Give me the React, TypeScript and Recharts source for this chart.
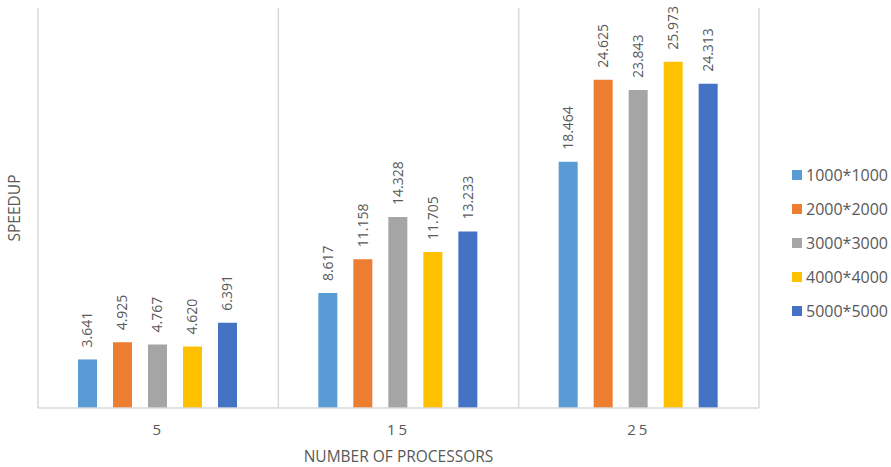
import { BarChart, Bar, XAxis, YAxis, CartesianGrid, Label, LabelList } from "recharts";

const processors = ["5", "15", "25"];
const sizes = ["1000*1000", "2000*2000", "3000*3000", "4000*4000", "5000*5000"];
const colors = ["#5B9BD5", "#ED7D31", "#A5A5A5", "#FFC000", "#4472C4"];
const speedup1000 = [3.641, 8.617, 18.464];
const speedup2000 = [4.925, 11.158, 24.625];
const speedup3000 = [4.767, 14.328, 23.843];
const speedup4000 = [4.62, 11.705, 25.973];
const speedup5000 = [6.391, 13.233, 24.313];

const series = [speedup1000, speedup2000, speedup3000, speedup4000, speedup5000];

const data = processors.map((p, i) => {
  const row: Record<string, string | number> = { procs: p };
  sizes.forEach((s, j) => {
    row[s] = series[j][i];
  });
  return row;
});

const FONT = "'Open Sans', sans-serif";
const TEXT = "#595959";

const ProcTick = (props: any) => {
  const { x, y, payload } = props;
  return (
    <text x={x} y={y + 19} textAnchor="middle" fontSize={15} fill={TEXT} fontFamily={FONT} letterSpacing={3}>
      {payload.value}
    </text>
  );
};

export default function App() {
  return (
    <div style={{ position: "absolute", left: 0, top: 0, width: 891, height: 467, background: "white" }}>
      <BarChart width={891} height={467} data={data} margin={{ top: 8, right: 132, bottom: 0, left: 0 }}
        barCategoryGap={40} barGap={16}>
        <CartesianGrid horizontal={false} stroke="#d9d9d9" strokeWidth={1.5}
          verticalCoordinatesGenerator={({ offset }: any) =>
            [0, 1, 2, 3].map((k) => offset.left + (offset.width * k) / 3)} />
        <XAxis dataKey="procs" height={59} axisLine={{ stroke: "#d9d9d9", strokeWidth: 1.5 }} tickLine={false} tick={<ProcTick />}>
          <Label value="NUMBER OF PROCESSORS" position="insideBottom" offset={5} fontSize={15.5} fill={TEXT} fontFamily={FONT} />
        </XAxis>
        <YAxis domain={[0, 30]} width={38} axisLine={false} tickLine={false} tick={false}>
          <Label value="SPEEDUP" angle={-90} position="insideLeft" offset={14} fontSize={15.5} fill={TEXT} fontFamily={FONT}
            style={{ textAnchor: "middle" }} />
        </YAxis>
        {sizes.map((s, j) => (
          <Bar key={s} dataKey={s} fill={colors[j]} isAnimationActive={false}>
            <LabelList dataKey={s} position="top" angle={-90} offset={12} textAnchor="start" dx={5}
              fontSize={14} fill={TEXT} fontFamily={FONT}
              formatter={(v: any) => Number(v).toFixed(3)} />
          </Bar>
        ))}
      </BarChart>
      <div style={{ position: "absolute", left: 792, top: 158, fontFamily: FONT, fontSize: 16, color: TEXT }}>
        {sizes.map((s, j) => (
          <div key={s} style={{ display: "flex", alignItems: "center", height: 34 }}>
            <span style={{ width: 10, height: 10, background: colors[j], marginRight: 4 }} />
            <span>{s}</span>
          </div>
        ))}
      </div>
    </div>
  );
}
